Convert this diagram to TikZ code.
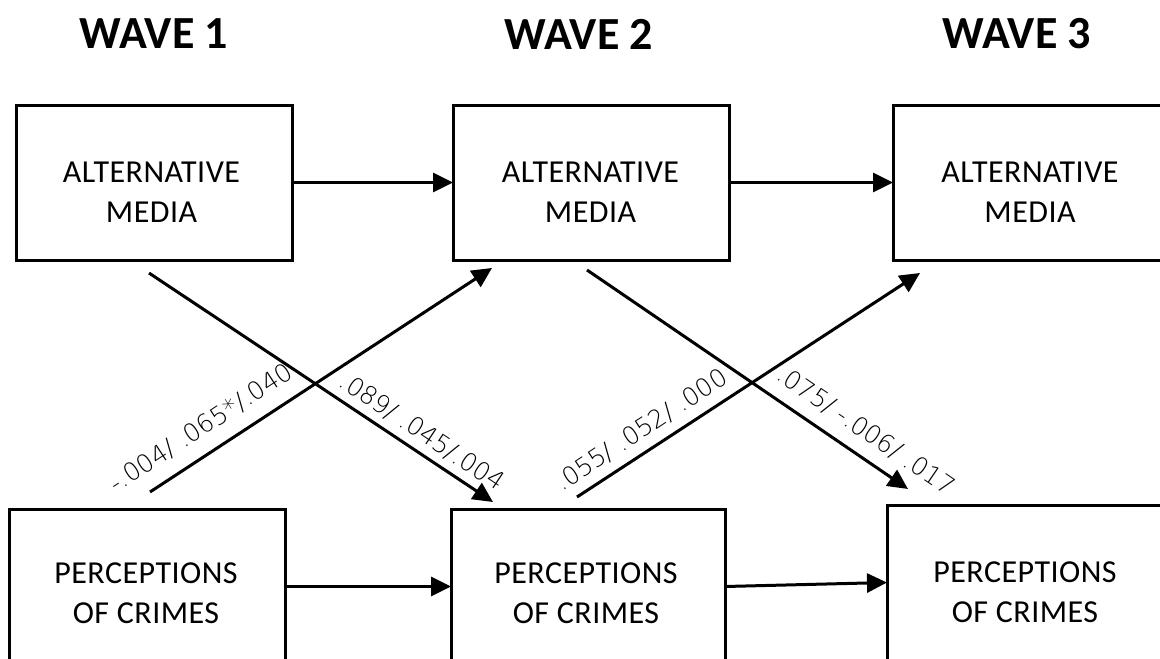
\documentclass[tikz,border=0pt]{standalone}
\usepackage{fontspec}
\setmainfont{Carlito}
\newfontfamily\boxfont[LetterSpace=1.5]{Carlito}
\IfFontExistsTF{DejaVu Sans ExtraLight}{\newfontfamily\lblfont{DejaVu Sans ExtraLight}}{\newfontfamily\lblfont{DejaVu Sans}}
\usetikzlibrary{arrows.meta}
\begin{document}
\begin{tikzpicture}[x=1pt,y=-1pt,
  box/.style={draw, line width=3pt, minimum width=276pt, minimum height=155pt, inner sep=0pt, outer sep=0pt},
  boxtext/.style={font=\boxfont\fontsize{32}{40}\selectfont, align=center, inner sep=0pt},
  wave/.style={font=\bfseries\fontsize{46}{50}\selectfont, inner sep=0pt},
  conn/.style={line width=3pt, -{Triangle[length=20pt,width=19pt]}},
  lbl/.style={font=\lblfont\fontsize{25}{25}\selectfont, inner sep=0pt}]
\useasboundingbox (0,0) rectangle (1160,659);
\clip (0,0) rectangle (1160,659);
% titles
\node[wave] (w1) at (154,34) {WAVE 1};
\node[wave] (w2) at (579,34) {WAVE 2};
\node[wave] (w3) at (1017,34) {WAVE 3};
% boxes
\node[box] (b1) at (154,182.5) {};
\node[box] (b2) at (591,182.5) {};
\node[box] (b3) at (1031,182.5) {};
\node[box] (b4) at (147,586.5) {};
\node[box, minimum width=274pt] (b5) at (588,586.5) {};
\node[box] (b6) at (1025,582.5) {};
% box texts
\node[boxtext] (t1) at (151.5,192.5) {ALTERNATIVE\\MEDIA};
\node[boxtext] (t2) at (590.5,192.5) {ALTERNATIVE\\MEDIA};
\node[boxtext] (t3) at (1030,192.5) {ALTERNATIVE\\MEDIA};
\node[boxtext] (t4) at (146,593) {PERCEPTIONS\\OF CRIMES};
\node[boxtext] (t5) at (586,593) {PERCEPTIONS\\OF CRIMES};
\node[boxtext] (t6) at (1025,592) {PERCEPTIONS\\OF CRIMES};
% horizontal connectors
\draw[conn] (b1.east) -- (b2.west);
\draw[conn] (b2.east) -- (b3.west);
\draw[conn] (b4.east) -- (b5.west);
\draw[conn] (b5.east) -- (b6.west);
% diagonal connector ends
\coordinate (a1s) at (149,273);
\coordinate (a1e) at (493,502);
\coordinate (a2s) at (150,492);
\coordinate (a2e) at (492,268);
\coordinate (a3s) at (587,270);
\coordinate (a3e) at (908,489);
\coordinate (a4s) at (577,497);
\coordinate (a4e) at (920,273);
\draw[conn] (a1s) -- (a1e);
\draw[conn] (a2s) -- (a2e);
\draw[conn] (a3s) -- (a3e);
\draw[conn] (a4s) -- (a4e);
% labels
\node[lbl, rotate=33.2] (l1) at (201,428) {-.004/ .065*/.040};
\node[lbl, rotate=-33.6] (l2) at (422,432) {.089/ .045/.004};
\node[lbl, rotate=33.2] (l3) at (641.5,430) {.055/ .052/ .000};
\node[lbl, rotate=-34.3] (l4) at (866,431) {.075/ -.006/ .017};
\end{tikzpicture}
\end{document}
